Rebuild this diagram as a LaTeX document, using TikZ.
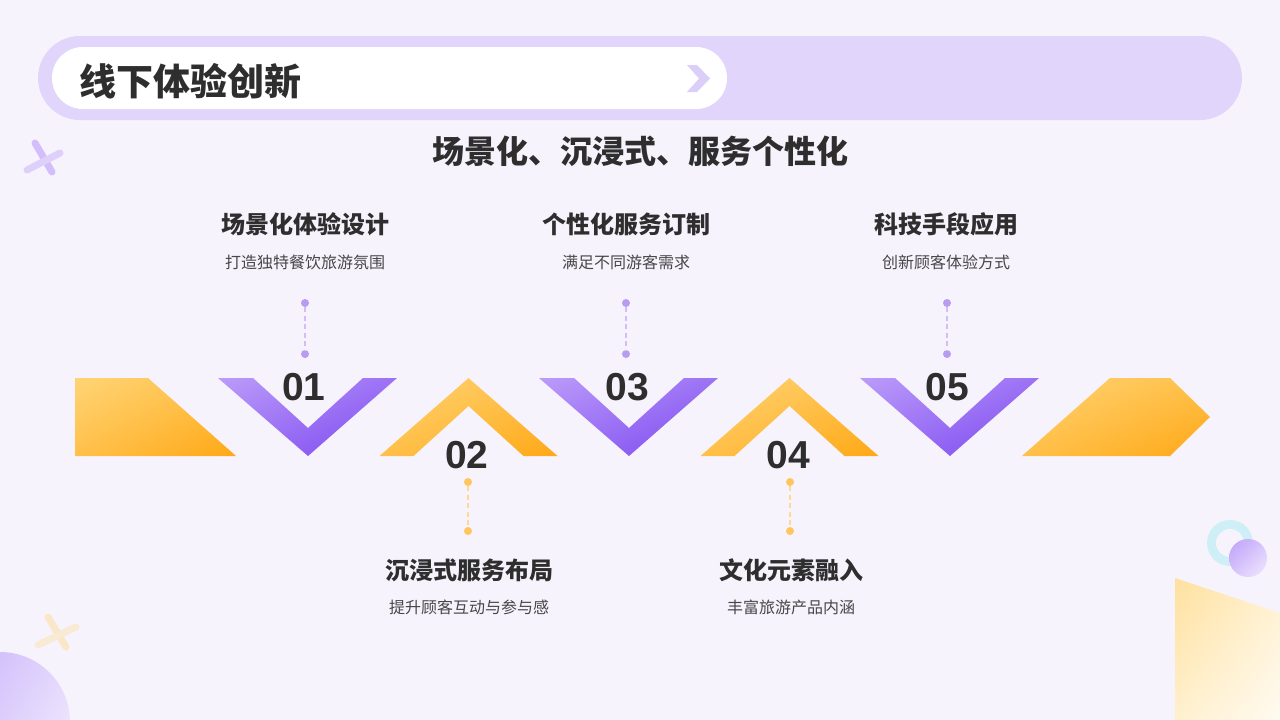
\documentclass[tikz,border=0pt]{standalone}
\usepackage{fontspec}
\usetikzlibrary{shadings}
\setmainfont{Noto Sans CJK SC}
\newfontfamily\numfont{Liberation Sans}
\definecolor{bgc}{HTML}{F6F3FD}
\definecolor{barc}{HTML}{E2D5FB}
\definecolor{chevc}{HTML}{DBCFFA}
\definecolor{txtc}{HTML}{2E2E2E}
\definecolor{descc}{HTML}{474747}
\definecolor{orA}{HTML}{FFD475}
\definecolor{orM}{HTML}{FFC04A}
\definecolor{orB}{HTML}{FFA815}
\definecolor{puA}{HTML}{BB9BF9}
\definecolor{puM}{HTML}{9C72F5}
\definecolor{puB}{HTML}{7B48F0}
\definecolor{puC}{HTML}{C2ACFA}
\definecolor{pudot}{HTML}{B99BF2}
\definecolor{pudash}{HTML}{D2BEF6}
\definecolor{ordot}{HTML}{FFC65E}
\definecolor{ordash}{HTML}{FFD992}
\definecolor{ringc}{HTML}{CDEFF5}
\tikzset{
  orshade/.style={upper left=orA, upper right=orM, lower left=orM, lower right=orB},
  pushade/.style={upper left=puA, upper right=puM, lower left=puM, lower right=puB},
  ttl/.style={font=\bfseries\fontsize{24}{26}\selectfont, text=txtc, inner sep=0pt},
  dsc/.style={font=\fontsize{16}{18}\selectfont, text=descc, inner sep=0pt},
  num/.style={font=\numfont\bfseries\fontsize{39}{42}\selectfont, text=txtc, inner sep=0pt},
  pdot/.style={circle, fill=pudot, minimum size=8pt, inner sep=0pt},
  odot/.style={circle, fill=ordot, minimum size=8pt, inner sep=0pt},
  pdash/.style={draw=pudash, line width=1.2pt, dash pattern=on 5pt off 3.5pt},
  odash/.style={draw=ordash, line width=1.2pt, dash pattern=on 5pt off 3.5pt},
}
\newcommand{\vchev}[1]{%
  \shade[pushade] ({#1-90},378) -- ({#1-55},378) -- (#1,428) -- ({#1+55},378) -- ({#1+89},378) -- (#1,456) -- cycle;}
\newcommand{\achev}[1]{%
  \shade[orshade] ({#1-89},456) -- (#1,378) -- ({#1+89},456) -- ({#1+55},456) -- (#1,406) -- ({#1-55},456) -- cycle;}
\begin{document}
\begin{tikzpicture}[x=1pt,y=-1pt]
\useasboundingbox (0,0) rectangle (1280,720);
\clip (0,0) rectangle (1280,720);
\fill[bgc] (0,0) rectangle (1280,720);

% header
\fill[barc, rounded corners=42pt] (38,36) rectangle (1242,120);
\fill[white, rounded corners=31pt] (52,47) rectangle (727,109);
\fill[chevc] (687,65) -- (697,65) -- (710,78.5) -- (697,92) -- (687,92) -- (699,78.5) -- cycle;
\node[font=\bfseries\fontsize{37}{40}\selectfont, text=txtc, anchor=west, inner sep=0pt] (title) at (79,81) {线下体验创新};
\node[font=\bfseries\fontsize{32}{34}\selectfont, text=txtc, inner sep=0pt] (sub) at (640,151) {场景化、沉浸式、服务个性化};

% decorations
\draw[line width=7pt, line cap=round, draw=puA!60!bgc] (35,143) -- (52,172);
\draw[line width=7pt, line cap=round, draw=puA!40!bgc] (27,170) -- (60,153);
\draw[line width=7pt, line cap=round, draw=orA!40!bgc] (48,617) -- (66,647);
\draw[line width=7pt, line cap=round, draw=orA!30!bgc] (38,645) -- (76,627);
\shade[upper left=puC, upper right=puA!40!white, lower left=puA!60!white, lower right=puA!15!white] (0,722) circle (70);
\fill[ringc] (1230,543) circle (23);
\fill[bgc] (1230,543) circle (14);
\shade[upper left=puA!95!white, upper right=puA!60!white, lower left=puA!60!white, lower right=puA!20!white] (1248,558) circle (19);
\shade[upper left=orA!70!white, upper right=orA!35!white, lower left=orA!35!white, lower right=orA!10!white] (1175,578) -- (1280,613) -- (1280,720) -- (1175,720) -- cycle;

% band
\shade[orshade] (75,378) -- (148,378) -- (236,456) -- (75,456) -- cycle;
\vchev{308}
\achev{468.5}
\vchev{629}
\achev{789.5}
\vchev{950}
\shade[orshade] (1022,456) -- (1110,378) -- (1170,378) -- (1210,417) -- (1170,456) -- cycle;

% numbers
\node[num] (n1) at (304,387) {01};
\node[num] (n2) at (467,455) {02};
\node[num] (n3) at (627,387) {03};
\node[num] (n4) at (788,455) {04};
\node[num] (n5) at (947,387) {05};

% connectors
\node[pdot] (a1) at (305,303) {};
\node[pdot] (b1) at (305,354) {};
\draw[pdash] (a1) -- (b1);
\node[pdot] (a3) at (626,303) {};
\node[pdot] (b3) at (626,354) {};
\draw[pdash] (a3) -- (b3);
\node[pdot] (a5) at (947,303) {};
\node[pdot] (b5) at (947,354) {};
\draw[pdash] (a5) -- (b5);
\node[odot] (a2) at (468,482) {};
\node[odot] (b2) at (468,531) {};
\draw[odash] (a2) -- (b2);
\node[odot] (a4) at (790,482) {};
\node[odot] (b4) at (790,531) {};
\draw[odash] (a4) -- (b4);

% labels
\node[ttl] (t1) at (305,224) {场景化体验设计};
\node[dsc] (d1) at (305,262) {打造独特餐饮旅游氛围};
\node[ttl] (t3) at (626,224) {个性化服务订制};
\node[dsc] (d3) at (626,262) {满足不同游客需求};
\node[ttl] (t5) at (946,224) {科技手段应用};
\node[dsc] (d5) at (946,262) {创新顾客体验方式};
\node[ttl] (t2) at (469,570) {沉浸式服务布局};
\node[dsc] (d2) at (469,607) {提升顾客互动与参与感};
\node[ttl] (t4) at (791,570) {文化元素融入};
\node[dsc] (d4) at (791,607) {丰富旅游产品内涵};
\end{tikzpicture}
\end{document}
